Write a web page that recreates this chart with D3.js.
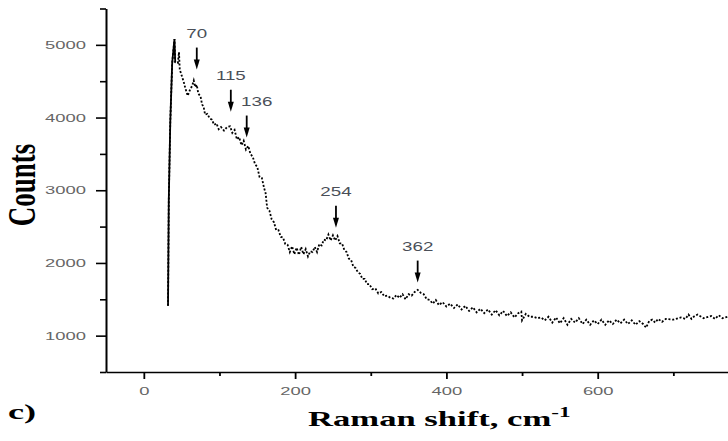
<!DOCTYPE html>
<html>
<head>
<meta charset="utf-8">
<script src="https://cdn.jsdelivr.net/npm/d3@7"></script>
<style>
  html, body { margin: 0; padding: 0; background: #fff; overflow: hidden; }
</style>
</head>
<body>
<svg id="chart" width="728" height="441"></svg>
<script>
// Raman spectrum: shift (cm-1) and detector counts
const ramanShift = [
  32, 32.5, 33, 35, 37.5, 40.5, 41.5, 45, 46.5, 47.5,
  50, 53, 55, 58, 61, 64, 66, 68, 70, 72,
  75, 77, 79, 81, 84, 87, 90, 93, 96, 99,
  102, 106, 110, 114, 117, 120, 123, 126, 129, 132,
  135, 138, 141, 144, 147, 150, 153, 156, 159, 161,
  163, 166, 169, 172, 175, 178, 181, 184, 187, 190,
  193, 196, 199, 202, 205, 208, 211, 214, 217, 220,
  223, 226, 229, 232, 235, 238, 241, 244, 247, 250,
  253, 256, 259, 262, 265, 268, 271, 274, 277, 280,
  283, 286, 289, 292, 295, 298, 302, 306, 310, 314,
  318, 322, 326, 330, 334, 338, 342, 346, 350, 354,
  358, 362, 366, 370, 374, 378, 382, 386, 390, 395,
  400, 405, 410, 415, 420, 425, 430, 435, 440, 445,
  450, 455, 460, 465, 470, 475, 480, 485, 490, 495,
  499, 500, 505, 510, 515, 520, 525, 530, 535, 540,
  545, 550, 555, 560, 565, 570, 575, 580, 585, 590,
  595, 600, 605, 610, 615, 620, 625, 630, 635, 640,
  645, 650, 655, 660, 664, 668, 672, 676, 680, 685,
  690, 700, 710, 716, 720, 724, 728, 732, 740, 750,
  755, 760, 765, 772
];
const counts = [
  1410, 2150, 2870, 3950, 4750, 5080, 4760, 4750, 4900, 4660,
  4580, 4480, 4400, 4300, 4380, 4440, 4510, 4420, 4450, 4330,
  4290, 4180, 4150, 4040, 4050, 3990, 3970, 3900, 3920, 3840,
  3870, 3820, 3870, 3880, 3790, 3830, 3700, 3730, 3620, 3680,
  3560, 3610, 3500, 3460, 3360, 3320, 3180, 3170, 3030, 2960,
  2760, 2720, 2600, 2560, 2450, 2450, 2360, 2350, 2260, 2250,
  2150, 2230, 2120, 2210, 2110, 2220, 2120, 2190, 2090, 2160,
  2150, 2220, 2150, 2260, 2240, 2320, 2310, 2390, 2310, 2380,
  2310, 2370, 2270, 2270, 2180, 2150, 2060, 2040, 1950, 1930,
  1870, 1850, 1780, 1780, 1710, 1710, 1640, 1650, 1580, 1600,
  1540, 1550, 1520, 1510, 1560, 1520, 1570, 1500, 1570, 1550,
  1600, 1630, 1590, 1570, 1500, 1490, 1440, 1490, 1420, 1460,
  1400, 1440, 1380, 1430, 1360, 1410, 1340, 1390, 1320, 1370,
  1310, 1360, 1290, 1350, 1280, 1340, 1270, 1320, 1250, 1310,
  1330, 1210, 1300, 1260, 1260, 1240, 1250, 1210, 1260, 1180,
  1250, 1170, 1240, 1150, 1230, 1180, 1240, 1160, 1220, 1150,
  1210, 1160, 1220, 1150, 1210, 1160, 1220, 1170, 1220, 1160,
  1210, 1150, 1200, 1160, 1110, 1200, 1220, 1180, 1230, 1190,
  1230, 1220, 1250, 1230, 1290, 1230, 1270, 1290, 1240, 1270,
  1230, 1280, 1240, 1260
];

// Marked bands and the count level where each arrow points
const peakPositions = [70, 115, 136, 254, 362];
const peakArrowCounts = [4660, 4080, 3725, 2485, 1730];

// Axis ticks
const yTickValues = [1000, 2000, 3000, 4000, 5000];
const yMinorTicks = [500, 1500, 2500, 3500, 4500, 5500];
const xTickValues = [0, 200, 400, 600];
const xMinorTicks = [100, 300, 500, 700];

const svg = d3.select('#chart');
const sans = "'Liberation Sans', Arial, sans-serif";
const serif = "'Liberation Serif', 'Times New Roman', serif";
const stretch = 1.6;

const x = d3.scaleLinear().domain([-50, 800]).range([106, 749]);
const y = d3.scaleLinear().domain([500, 5500]).range([372, 8.5]);

// ---- Y axis ----
const yAxis = svg.append('g')
  .attr('transform', 'translate(106,0)')
  .call(d3.axisLeft(y).tickValues(yTickValues).tickSize(10).tickPadding(2.5)
    .tickSizeOuter(0).tickFormat(d3.format('d')));
yAxis.select('.domain').attr('stroke', '#000').attr('stroke-width', 2);
yAxis.selectAll('.tick line').attr('stroke', '#000').attr('stroke-width', 1.6);
yAxis.selectAll('.tick text')
  .attr('transform', `scale(${stretch},1)`)
  .attr('font-family', sans).attr('font-size', 11.5)
  .attr('fill', '#666');

const yMinor = svg.append('g')
  .attr('transform', 'translate(106,0)')
  .call(d3.axisLeft(y).tickValues(yMinorTicks).tickSize(6).tickSizeOuter(0).tickFormat(''));
yMinor.select('.domain').remove();
yMinor.selectAll('.tick line').attr('stroke', '#000').attr('stroke-width', 1.6);

// ---- X axis ----
const xAxis = svg.append('g')
  .attr('transform', 'translate(0,372)')
  .call(d3.axisBottom(x).tickValues(xTickValues).tickSize(7).tickSizeOuter(0)
    .tickFormat(d3.format('d')));
xAxis.select('.domain').attr('stroke', '#000').attr('stroke-width', 1.6);
xAxis.selectAll('.tick line').attr('stroke', '#000').attr('stroke-width', 1.8);
xAxis.selectAll('.tick text')
  .attr('y', 23).attr('dy', 0)
  .attr('transform', `scale(${stretch},1)`)
  .attr('font-family', sans).attr('font-size', 11.5)
  .attr('fill', '#666');

const xMinor = svg.append('g')
  .attr('transform', 'translate(0,372)')
  .call(d3.axisBottom(x).tickValues(xMinorTicks).tickSize(4).tickSizeOuter(0).tickFormat(''));
xMinor.select('.domain').remove();
xMinor.selectAll('.tick line').attr('stroke', '#000').attr('stroke-width', 1.8);

// ---- Spectrum ----
const pts = ramanShift.map((v, i) => [v, counts[i]]);
const line = d3.line().x(d => x(d[0])).y(d => y(d[1]));

svg.append('path')
  .datum(pts)
  .attr('d', line)
  .attr('fill', 'none')
  .attr('stroke', '#000')
  .attr('stroke-width', 1.8)
  .attr('stroke-dasharray', '2,1.8');

// the steep onset reads as a continuous stroke
svg.append('path')
  .datum(pts.slice(0, 7))
  .attr('d', line)
  .attr('fill', 'none')
  .attr('stroke', '#000')
  .attr('stroke-width', 1.8);

// ---- Peak arrows and labels ----
const labelShift = { 136: 10 };
const arrows = svg.append('g');
peakPositions.forEach((p, i) => {
  const px = x(p);
  const tip = y(peakArrowCounts[i]);
  arrows.append('line')
    .attr('x1', px).attr('x2', px)
    .attr('y1', tip - 22).attr('y2', tip - 8)
    .attr('stroke', '#000').attr('stroke-width', 1.8);
  arrows.append('path')
    .attr('d', `M${px - 3},${tip - 10}L${px + 3},${tip - 10}L${px},${tip}Z`)
    .attr('fill', '#000');
  const lx = px + (labelShift[p] || 0);
  const ly = tip - 32;
  arrows.append('text')
    .attr('transform', `translate(${lx},${ly}) scale(1.5,1)`)
    .attr('text-anchor', 'middle')
    .attr('font-family', sans).attr('font-size', 12.5)
    .attr('fill', '#4a4f58')
    .text(p);
});

// ---- Titles ----
svg.append('text')
  .attr('transform', 'translate(35,185) scale(1.5,1) rotate(-90)')
  .attr('text-anchor', 'middle')
  .attr('font-family', serif).attr('font-weight', 'bold').attr('font-size', 27)
  .attr('fill', '#000')
  .text('Counts');

const xt = svg.append('text')
  .attr('transform', 'translate(308,426) scale(1.65,1)')
  .attr('font-family', serif).attr('font-weight', 'bold').attr('font-size', 21)
  .attr('fill', '#000');
xt.append('tspan').text('Raman shift, cm');
xt.append('tspan').attr('dy', -9).attr('font-size', 14).text('-1');

svg.append('text')
  .attr('transform', 'translate(8,419) scale(1.65,1)')
  .attr('font-family', serif).attr('font-weight', 'bold').attr('font-size', 22)
  .attr('fill', '#000')
  .text('c)');
</script>
</body>
</html>
